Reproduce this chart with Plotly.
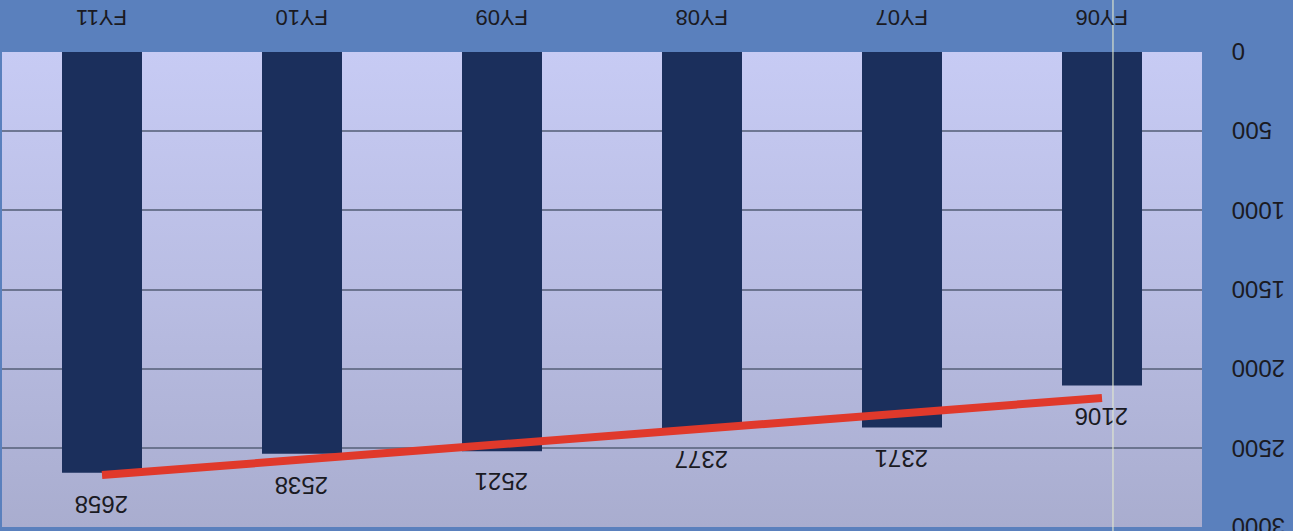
import base64
import plotly.graph_objects as go

# Fiscal years and their totals
years = ["FY06", "FY07", "FY08", "FY09", "FY10", "FY11"]
totals = [2106, 2371, 2377, 2521, 2538, 2658]

# Linear trend drawn between the first and last year
trend_years = ["FY06", "FY11"]
trend_values = [2185, 2672]

y_ticks = [0, 500, 1000, 1500, 2000, 2500, 3000]

FONT = "Liberation Sans, Arial, sans-serif"
INK = "#1a1a22"
BAR = "#1b2f5c"
RED = "#e0392b"
GRID = "rgba(95,105,130,0.85)"

# Lavender vertical gradient for the plotting area
svg = (
    '<svg xmlns="http://www.w3.org/2000/svg" width="100" height="100" preserveAspectRatio="none">'
    '<defs><linearGradient id="g" x1="0" y1="0" x2="0" y2="1">'
    '<stop offset="0" stop-color="#c7cbf4"/>'
    '<stop offset="0.5" stop-color="#b9bde3"/>'
    '<stop offset="1" stop-color="#a9adcf"/>'
    '</linearGradient></defs>'
    '<rect width="100" height="100" fill="url(#g)"/></svg>'
)
bg_uri = "data:image/svg+xml;base64," + base64.b64encode(svg.encode()).decode()

fig = go.Figure()

fig.add_trace(go.Bar(
    x=years, y=totals,
    marker=dict(color=BAR, line=dict(width=0)),
    hoverinfo="x+y",
))

fig.add_trace(go.Scatter(
    x=trend_years, y=trend_values,
    mode="lines",
    line=dict(color=RED, width=8),
    hoverinfo="skip",
))

# Value labels under each bar end (upside-down chart)
annotations = [
    dict(x=yr, y=v, xref="x", yref="y", text=str(v), showarrow=False,
         textangle=180, yshift=-31, font=dict(family=FONT, size=24, color=INK))
    for yr, v in zip(years, totals)
]

# Category labels across the top, rotated with the chart
annotations += [
    dict(x=yr, y=1, xref="x", yref="paper", text=yr, showarrow=False,
         textangle=180, yanchor="middle", yshift=34,
         font=dict(family=FONT, size=22, color=INK))
    for yr in years
]

# Value-axis labels on the right, rotated with the chart
annotations += [
    dict(x=1, y=t, xref="paper", yref="y", text=str(t), showarrow=False,
         textangle=180, xanchor="left", yanchor="middle", xshift=28,
         font=dict(family=FONT, size=24, color=INK))
    for t in y_ticks
]

fig.update_layout(
    width=1293, height=531,
    margin=dict(l=2, r=91, t=52, b=4),
    paper_bgcolor="#5a80bd",
    plot_bgcolor="rgba(0,0,0,0)",
    showlegend=False,
    bargap=0.6,
    annotations=annotations,
    images=[dict(source=bg_uri, xref="paper", yref="paper", x=0, y=1,
                 sizex=1, sizey=1, sizing="stretch", layer="below",
                 xanchor="left", yanchor="top")],
    shapes=[dict(type="line", xref="paper", yref="paper",
                 x0=0.9258, x1=0.9258, y0=-0.05, y1=1.15,
                 line=dict(color="rgba(225,232,205,0.75)", width=1.5))],
    xaxis=dict(
        type="category", categoryorder="array", categoryarray=years,
        autorange="reversed", showticklabels=False,
        showgrid=False, showline=False, zeroline=False, ticks="",
    ),
    yaxis=dict(
        range=[3000, 0], tickvals=y_ticks, showticklabels=False,
        showgrid=True, gridcolor=GRID, gridwidth=1.5,
        showline=False, zeroline=False, ticks="",
    ),
)

fig.write_html("out.html")
